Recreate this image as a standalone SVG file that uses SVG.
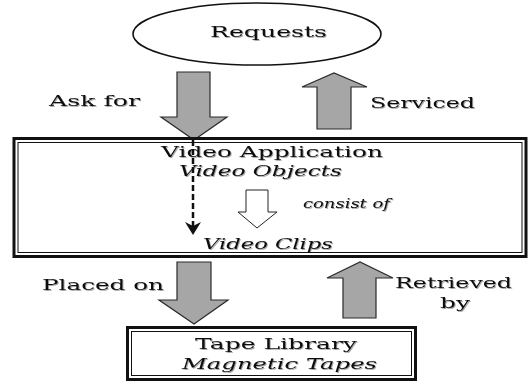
<svg xmlns="http://www.w3.org/2000/svg" width="531" height="384" viewBox="0 0 531 384">
<defs>
<filter id="sh" x="-5%" y="-20%" width="110%" height="150%">
<feDropShadow dx="1" dy="1" stdDeviation="0.6" flood-color="#000" flood-opacity="0.35"/>
</filter>
</defs>
<style>
text{font-family:"DejaVu Serif","Liberation Serif",serif;font-size:15px;fill:#111;filter:url(#sh)}
.it{font-style:italic}
.sm{font-size:12px}
.blk{fill:#a6a6a6;stroke:#2a2a2a;stroke-width:1.2}
.frame{fill:#fff;stroke:#111}
</style>
<rect width="531" height="384" fill="#fff"/>
<g id="connectors">
<polygon class="blk" points="177,72 210,72 210,117 227,117 194,140 161,117 177,117"/>
<polygon class="blk" points="317,129 351,129 351,87 367,87 334,73 302,87 317,87"/>
<polygon class="blk" points="177,262 211,262 211,300 228,300 194,324 159,300 177,300"/>
<polygon class="blk" points="343,318 376,318 376,278 393,278 360,262 327,278 343,278"/>
</g>
<g id="requests">
<ellipse cx="257" cy="34" rx="124" ry="31" fill="#fff" stroke="#111" stroke-width="1.6"/>
<text x="210" y="37" textLength="117" lengthAdjust="spacingAndGlyphs">Requests</text>
</g>
<g id="labels">
<text x="49" y="106" textLength="91" lengthAdjust="spacingAndGlyphs">Ask for</text>
<text x="370" y="108" textLength="105" lengthAdjust="spacingAndGlyphs">Serviced</text>
<text x="42" y="290" textLength="122" lengthAdjust="spacingAndGlyphs">Placed on</text>
<text x="395" y="288" textLength="117" lengthAdjust="spacingAndGlyphs">Retrieved</text>
<text x="440" y="308" textLength="30" lengthAdjust="spacingAndGlyphs">by</text>
</g>
<g id="video-application">
<rect class="frame" x="14" y="138.5" width="512" height="118" stroke-width="3"/>
<rect x="18" y="142.5" width="504" height="110" fill="none" stroke="#111" stroke-width="1"/>
<text x="161" y="157" textLength="222" lengthAdjust="spacingAndGlyphs">Video Application</text>
<text class="it" x="179" y="176" textLength="163" lengthAdjust="spacingAndGlyphs">Video Objects</text>
<line x1="193" y1="140" x2="193" y2="226" stroke="#111" stroke-width="2.5" stroke-dasharray="6,3"/>
<polygon points="185,222 193,235 201,222 193,226" fill="#111"/>
<polygon points="246,190 268,190 268,212 277,212 257,228 238,212 246,212" fill="#fff" stroke="#222" stroke-width="1"/>
<text class="it sm" x="303" y="208" textLength="87" lengthAdjust="spacingAndGlyphs">consist of</text>
<text class="it" x="203" y="249" textLength="130" lengthAdjust="spacingAndGlyphs">Video Clips</text>
</g>
<g id="tape-library">
<rect class="frame" x="127.5" y="327.5" width="288" height="52" stroke-width="3"/>
<rect x="131.5" y="331.5" width="280" height="44" fill="none" stroke="#111" stroke-width="1"/>
<text x="195" y="349" textLength="162" lengthAdjust="spacingAndGlyphs">Tape Library</text>
<text class="it" x="182" y="369" textLength="195" lengthAdjust="spacingAndGlyphs">Magnetic Tapes</text>
</g>
</svg>
